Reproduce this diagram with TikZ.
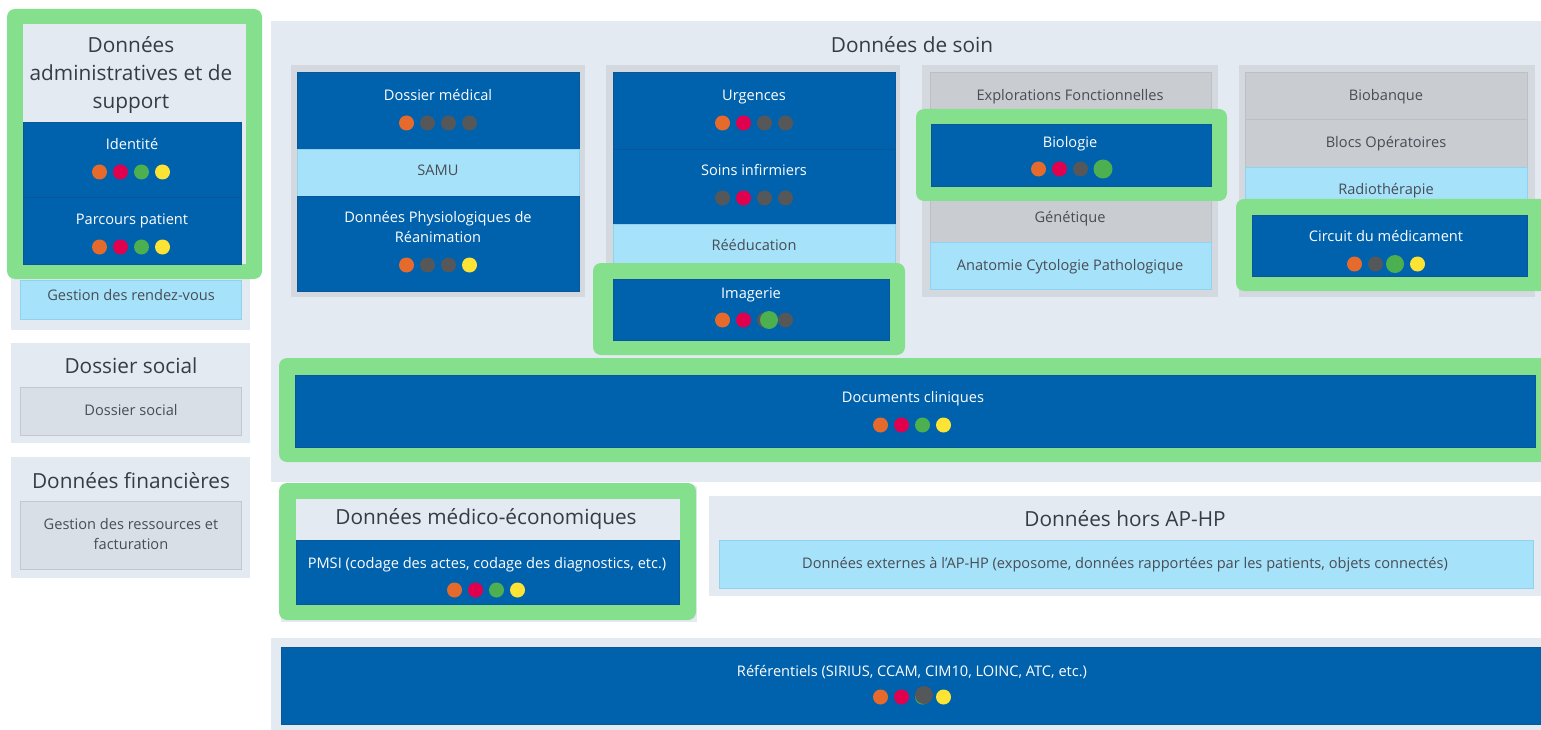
\documentclass[tikz,border=0pt]{standalone}
\usepackage{fontspec}
\setmainfont{Open Sans}
\definecolor{panel}{HTML}{E4EAF2}
\definecolor{grpgray}{HTML}{D3D9DF}
\definecolor{itemgray}{HTML}{C9CDD2}
\definecolor{itemgrayb}{HTML}{BBC0C5}
\definecolor{lblue}{HTML}{A7E2FB}
\definecolor{lblueb}{HTML}{92D2EE}
\definecolor{dblue}{HTML}{0062AD}
\definecolor{dblueb}{HTML}{0A5797}
\definecolor{hlgreen}{HTML}{84E08C}
\definecolor{sbox}{HTML}{D9DFE6}
\definecolor{sboxb}{HTML}{C2C8CF}
\definecolor{torange}{HTML}{E56A2C}
\definecolor{tred}{HTML}{E0004D}
\definecolor{tgray}{HTML}{555759}
\definecolor{tgreen}{HTML}{4CAF50}
\definecolor{tyellow}{HTML}{FDE333}
\definecolor{txtdark}{HTML}{474D54}
\definecolor{ttldark}{HTML}{363C43}
\newcommand\bx[6]{\node[#2,anchor=north west,minimum width={(#5-#3)*1pt},minimum height={(#6-#4)*1pt},inner sep=0pt,outer sep=0pt] (#1) at (#3,#4) {};}
\newcommand\dotrow[6]{\foreach \cc [count=\ii] in {#3,#4,#5,#6} {\fill[\cc] ({#1+(\ii-2.5)*21},#2) circle[radius=7.5pt];}}
\tikzset{
  panelbox/.style={fill=panel},
  grpbox/.style={fill=grpgray},
  graybox/.style={fill=itemgray,draw=itemgrayb,line width=0.8pt},
  lbluebox/.style={fill=lblue,draw=lblueb,line width=0.8pt},
  bluebox/.style={fill=dblue,draw=dblueb,line width=0.8pt},
  socbox/.style={fill=sbox,draw=sboxb,line width=0.8pt},
  hlframe/.style={fill=hlgreen,rounded corners=8pt},
  twm/.style={text=white,font=\fontsize{14.6}{20}\selectfont,inner sep=0pt,align=center},
  tdm/.style={text=txtdark,font=\fontsize{14.6}{20}\selectfont,inner sep=0pt,align=center},
  tw/.style={twm,anchor=base,yshift=-6.5pt},
  td/.style={tdm,anchor=base,yshift=-6.5pt},
  ttl/.style={text=ttldark,font=\fontsize{20.8}{28}\selectfont,inner sep=0pt,align=center},
}
\begin{document}
\begin{tikzpicture}[x=1pt,y=-1pt]
\useasboundingbox (0,0) rectangle (1541,730);
\fill[white] (0,0) rectangle (1541,730);
\begin{scope}
\clip (0,0) rectangle (1541,730);
% ---------- left column ----------
\bx{admpanel}{panelbox}{11}{14}{250}{330}
\bx{rdv}{lbluebox}{20}{280}{241}{319}
\node[td] (trdv) at (131,294) {Gestion des rendez-vous};
\fill[hlframe] (7,9) rectangle (262,279);
\bx{admin}{panelbox}{23}{24}{246}{264}
\node[ttl] (tadm) at (131,75) {Données\\administratives et de\\support};
\bx{ident}{bluebox}{23}{122}{241}{197}
\node[tw] (tident) at (132,143) {Identité};
\dotrow{131}{172}{torange}{tred}{tgreen}{tyellow}
\bx{parc}{bluebox}{23}{197}{241}{264}
\node[tw] (tparc) at (132,218) {Parcours patient};
\dotrow{131}{247}{torange}{tred}{tgreen}{tyellow}

\bx{socpanel}{panelbox}{11}{343}{250}{443}
\node[ttl] (tsoc) at (131,366) {Dossier social};
\bx{soc}{socbox}{20}{387}{241}{435}
\node[td] (tsocb) at (131,409) {Dossier social};

\bx{finpanel}{panelbox}{11}{457}{250}{578}
\node[ttl] (tfin) at (131,481) {Données financières};
\bx{fin}{socbox}{20}{501}{241}{569}
\node[tdm] (tfinb) at (131,534) {Gestion des ressources et\\facturation};

% ---------- données de soin ----------
\bx{soin}{panelbox}{271}{21}{1541}{482}
\node[ttl] (tsoin) at (912,45) {Données de soin};

% column 1
\bx{g1}{grpbox}{291}{65}{585}{297}
\bx{dm}{bluebox}{297}{72}{579}{149}
\node[tw] (tdm) at (438,94) {Dossier médical};
\dotrow{438}{123}{torange}{tgray}{tgray}{tgray}
\bx{samu}{lbluebox}{297}{149}{579}{196}
\node[td] (tsamu) at (438,169) {SAMU};
\bx{dpr}{bluebox}{297}{196}{579}{291}
\node[twm] (tdpr) at (438,227) {Données Physiologiques de\\Réanimation};
\dotrow{438}{265}{torange}{tgray}{tgray}{tyellow}

% column 2
\bx{g2}{grpbox}{606}{65}{900}{300}
\bx{urg}{bluebox}{613}{72}{895}{149}
\node[tw] (turg) at (754,94) {Urgences};
\dotrow{754}{123}{torange}{tred}{tgray}{tgray}
\bx{inf}{bluebox}{613}{149}{895}{224}
\node[tw] (tinf) at (754,169) {Soins infirmiers};
\dotrow{754}{198}{tgray}{tred}{tgray}{tgray}
\bx{reed}{lbluebox}{613}{224}{895}{272}
\node[td] (treed) at (754,244) {Rééducation};
\fill[hlframe] (593,263) rectangle (905,355);
\bx{imag}{bluebox}{613}{279}{889}{340}
\node[tw] (timag) at (751,292) {Imagerie};
\dotrow{754}{320}{torange}{tred}{tgray}{tgray}
\fill[tgreen] (769,320) circle[radius=9pt];

% column 3
\bx{g3}{grpbox}{922}{65}{1218}{297}
\bx{expl}{graybox}{930}{72}{1211}{125}
\node[td] (texpl) at (1070,94) {Explorations Fonctionnelles};
\bx{gen}{graybox}{930}{186}{1211}{242}
\node[td] (tgen) at (1070,216) {Génétique};
\bx{acp}{lbluebox}{930}{242}{1211}{289}
\node[td] (tacp) at (1070,264) {Anatomie Cytologie Pathologique};
\fill[hlframe] (916,109) rectangle (1227,201);
\bx{bio}{bluebox}{931}{124}{1211}{186}
\node[tw] (tbio) at (1070,141) {Biologie};
\dotrow{1070}{169}{torange}{tred}{tgray}{dblue}
\fill[tgreen] (1103,169) circle[radius=9.5pt];

% column 4
\bx{g4}{grpbox}{1239}{65}{1535}{297}
\bx{biob}{graybox}{1245}{72}{1527}{119}
\node[td] (tbiob) at (1386,94) {Biobanque};
\bx{blocs}{graybox}{1245}{119}{1527}{167}
\node[td] (tblocs) at (1386,141) {Blocs Opératoires};
\bx{radio}{lbluebox}{1245}{167}{1527}{222}
\node[td] (tradio) at (1386,188) {Radiothérapie};
\fill[hlframe] (1236,199) rectangle (1560,291);
\bx{circ}{bluebox}{1252}{215}{1527}{276}
\node[tw] (tcirc) at (1386,235) {Circuit du médicament};
\dotrow{1386}{264}{torange}{tgray}{tgray}{tyellow}
\fill[tgreen] (1395,264) circle[radius=9pt];

% documents cliniques
\fill[hlframe] (279,358) rectangle (1560,462);
\bx{doc}{bluebox}{295}{375}{1535}{447}
\node[tw] (tdoc) at (913,396) {Documents cliniques};
\dotrow{912}{425}{torange}{tred}{tgreen}{tyellow}

% ---------- médico-économiques ----------
\bx{medpanel}{panelbox}{281}{486}{697}{622}
\fill[hlframe] (279,483) rectangle (696,620);
\bx{med}{panelbox}{296}{499}{680}{540}
\node[ttl] (tmed) at (486,519) {Données médico-économiques};
\bx{pmsi}{bluebox}{296}{540}{679}{604}
\node[tw] (tpmsi) at (487,562) {PMSI (codage des actes, codage des diagnostics, etc.)};
\dotrow{486}{590}{torange}{tred}{tgreen}{tyellow}

% ---------- hors AP-HP ----------
\bx{horspanel}{panelbox}{709}{496}{1541}{596}
\node[ttl] (thors) at (1125,519) {Données hors AP-HP};
\bx{ext}{lbluebox}{719}{540}{1533}{588}
\node[td] (text) at (1125,562) {Données externes à l'AP-HP (exposome, données rapportées par les patients, objets connectés)};

% ---------- référentiels ----------
\bx{refpanel}{panelbox}{271}{638}{1541}{730}
\bx{ref}{bluebox}{281}{647}{1545}{724}
\node[tw] (tref) at (912,670) {Référentiels (SIRIUS, CCAM, CIM10, LOINC, ATC, etc.)};
\dotrow{912}{697}{torange}{tred}{tgreen}{tyellow}
\fill[tgray] (924,695) circle[radius=9pt];
\end{scope}
\end{tikzpicture}
\end{document}
